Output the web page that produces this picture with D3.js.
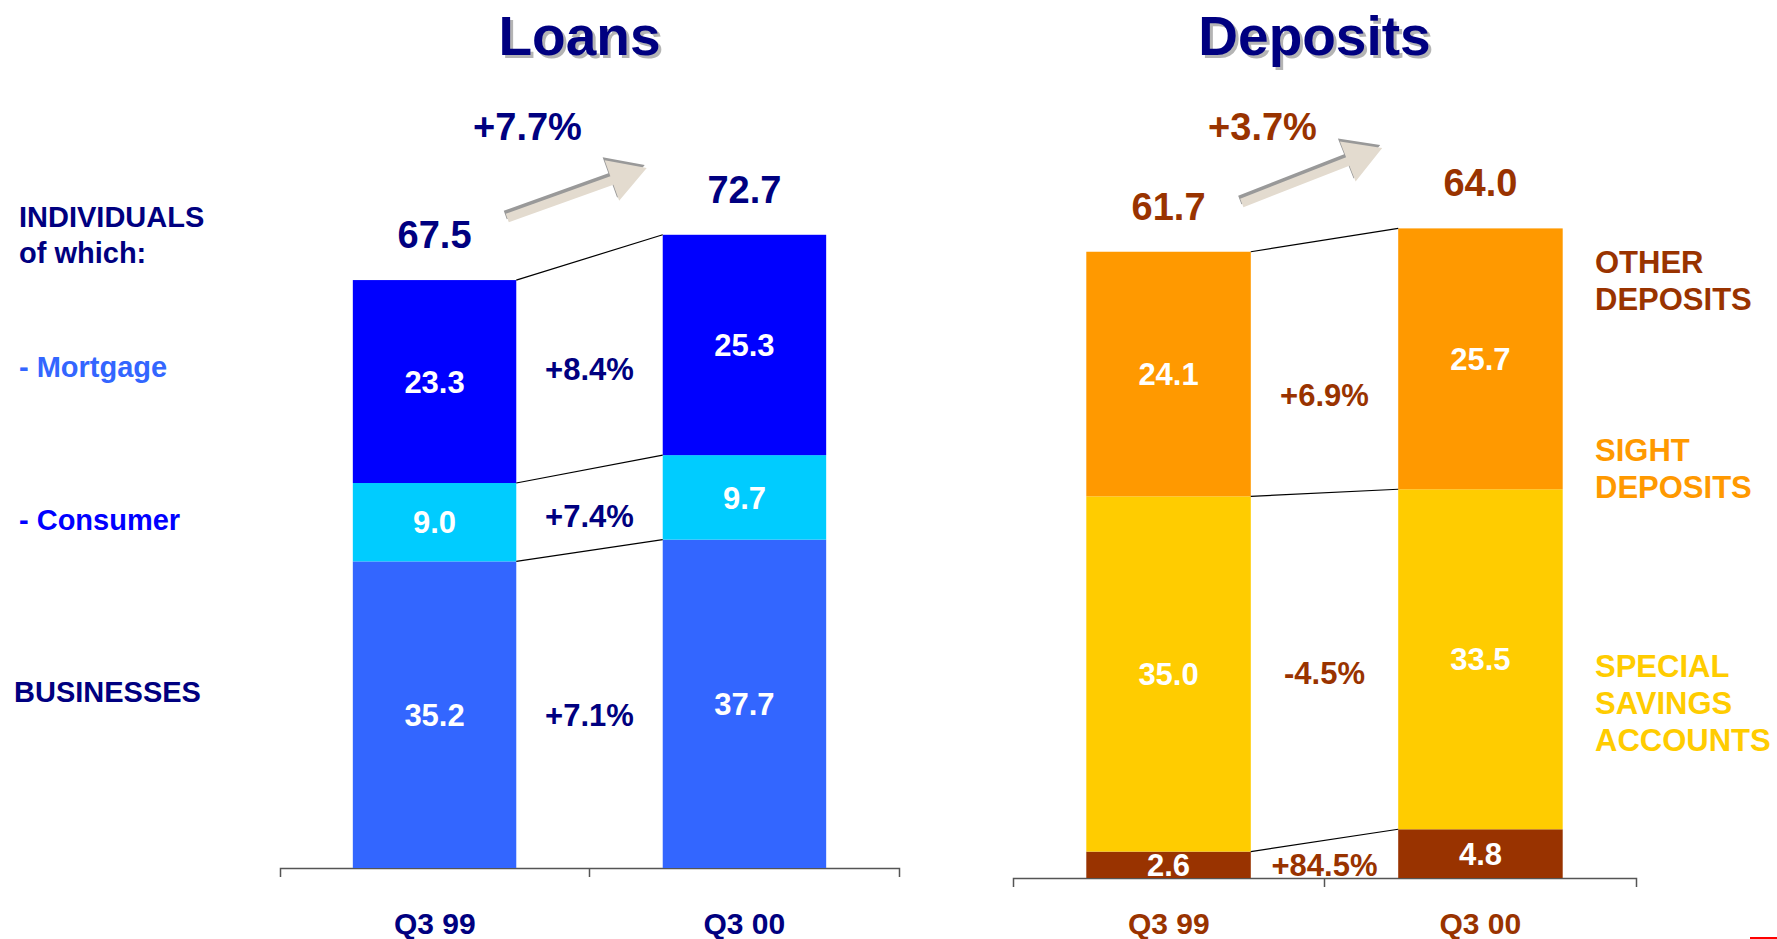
<!DOCTYPE html>
<html>
<head>
<meta charset="utf-8">
<script src="https://cdn.jsdelivr.net/npm/d3@7"></script>
<style>
	body { margin: 0; background: #fff; }
	svg { display: block; font-family: Arial, 'Liberation Sans', sans-serif; font-weight: bold; }
</style>
</head>
<body>
<div id="chart"></div>
<script>
// DATA
const periods = ['Q3 99', 'Q3 00'];

const loanKeys = ['businesses', 'consumer', 'mortgage'];
const loanBusinesses = [35.2, 37.7];
const loanConsumer = [9.0, 9.7];
const loanMortgage = [23.3, 25.3];
const loanTotals = [67.5, 72.7];
const loanChanges = ['+7.1%', '+7.4%', '+8.4%'];
const loanGrowth = '+7.7%';
const loanLegend = [['INDIVIDUALS', 'of which:'], ['- Mortgage'], ['- Consumer'], ['BUSINESSES']];

const depositKeys = ['other', 'special', 'sight'];
const depositOther = [2.6, 4.8];
const depositSpecial = [35.0, 33.5];
const depositSight = [24.1, 25.7];
const depositTotals = [61.7, 64.0];
const depositChanges = ['+84.5%', '-4.5%', '+6.9%'];
const depositGrowth = '+3.7%';
const depositLegend = [['OTHER', 'DEPOSITS'], ['SIGHT', 'DEPOSITS'], ['SPECIAL', 'SAVINGS', 'ACCOUNTS']];


// LAYOUT
const W = 1777, H = 939;
const navy = '#000080', brown = '#993300';

const panels = [
	{
		title: 'Loans',
		keys: loanKeys,
		rows: periods.map((p, i) => ({ period: p, businesses: loanBusinesses[i], consumer: loanConsumer[i], mortgage: loanMortgage[i] })),
		totals: loanTotals,
		changes: loanChanges,
		changeShift: [6, 6, 6],
		growth: loanGrowth,
		colors: { businesses: '#3366ff', consumer: '#00ccff', mortgage: '#0000ff' },
		textColor: navy,
		x0: 280, x1: 899, axisY: 868, pxPerUnit: 8.71,
		arrowY: [218, 168],
		legend: loanLegend,
		legendX: [19, 19, 19, 14],
		legendY: [227, 377, 530, 702],
		legendColors: [navy, '#3366ff', '#0000ff', navy],
		legendSize: 29,
		legendStep: 36
	},
	{
		title: 'Deposits',
		keys: depositKeys,
		rows: periods.map((p, i) => ({ period: p, other: depositOther[i], special: depositSpecial[i], sight: depositSight[i] })),
		totals: depositTotals,
		changes: depositChanges,
		changeShift: [6, 6, 28],
		growth: depositGrowth,
		colors: { other: '#993300', special: '#ffcc00', sight: '#ff9900' },
		textColor: brown,
		x0: 1013, x1: 1636, axisY: 878, pxPerUnit: 10.15,
		arrowY: [203, 148],
		legend: depositLegend,
		legendX: [1595, 1595, 1595],
		legendY: [273, 461, 677],
		legendColors: [brown, '#ff9900', '#ffcc00'],
		legendSize: 31,
		legendStep: 37
	}
];

const svg = d3.select('#chart')
	.append('svg')
	.attr('width', W)
	.attr('height', H)
	.attr('viewBox', [0, 0, W, H]);


// FUNCTIONS
const arrowPath = (len) => {
	// arrow pointing along +x, tail at origin
	const sw = 4.5, hw = 21.5, hl = 37;
	return `M0,${-sw} L${len - hl},${-sw} L${len - hl},${-hw} L${len},0 L${len - hl},${hw} L${len - hl},${sw} L0,${sw} Z`;
};

const drawPanel = (cfg) => {
	const g = svg.append('g');

	const xCat = d3.scaleBand().domain(periods).range([cfg.x0, cfg.x1]);
	const xBar = d3.scaleBand().domain(periods).range([cfg.x0, cfg.x1])
		.paddingInner(0.4726).paddingOuter(0.235);
	const y = d3.scaleLinear()
		.domain([0, 80])
		.range([cfg.axisY, cfg.axisY - 80 * cfg.pxPerUnit]);

	const series = d3.stack().keys(cfg.keys)(cfg.rows);

	// title with shadow
	const tx = (cfg.x0 + cfg.x1) / 2 - 10;
	g.append('text')
		.attr('x', tx + 3).attr('y', 58)
		.attr('text-anchor', 'middle')
		.attr('font-size', 55)
		.attr('fill', '#b4b4b4')
		.text(cfg.title);
	g.append('text')
		.attr('x', tx).attr('y', 55)
		.attr('text-anchor', 'middle')
		.attr('font-size', 55)
		.attr('fill', navy)
		.text(cfg.title);

	// axis
	const labelBaseline = 934;
	g.append('g')
		.attr('transform', `translate(0,${cfg.axisY})`)
		.call(d3.axisBottom(xCat)
			.tickSizeInner(0)
			.tickSizeOuter(9)
			.tickPadding(labelBaseline - cfg.axisY - 0.71 * 30))
		.call(a => a.select('.domain').attr('stroke', '#555').attr('stroke-width', 1.5))
		.call(a => a.selectAll('text')
			.attr('font-size', 30)
			.attr('font-family', "Arial, 'Liberation Sans', sans-serif")
			.attr('font-weight', 'bold')
			.attr('fill', cfg.textColor));

	// inner boundary ticks
	g.append('g')
		.selectAll('line')
		.data(periods.slice(1))
		.join('line')
		.attr('x1', d => xCat(d)).attr('x2', d => xCat(d))
		.attr('y1', cfg.axisY).attr('y2', cfg.axisY + 9)
		.attr('stroke', '#555').attr('stroke-width', 1.5);

	// bars
	g.append('g')
		.selectAll('g')
		.data(series)
		.join('g')
		.attr('fill', s => cfg.colors[s.key])
		.selectAll('rect')
		.data(s => s)
		.join('rect')
		.attr('x', d => xBar(d.data.period))
		.attr('y', d => y(d[1]))
		.attr('width', xBar.bandwidth())
		.attr('height', d => y(d[0]) - y(d[1]));

	// connectors between bar tops of each segment
	const xa = xBar(periods[0]) + xBar.bandwidth();
	const xb = xBar(periods[1]);
	g.append('g')
		.selectAll('line')
		.data(series)
		.join('line')
		.attr('x1', xa).attr('y1', s => y(s[0][1]))
		.attr('x2', xb).attr('y2', s => y(s[1][1]))
		.attr('stroke', '#000')
		.attr('stroke-width', 1.2);

	// segment values
	g.append('g')
		.selectAll('g')
		.data(series)
		.join('g')
		.selectAll('text')
		.data(s => s)
		.join('text')
		.attr('x', d => xBar(d.data.period) + xBar.bandwidth() / 2)
		.attr('y', d => (y(d[0]) + y(d[1])) / 2)
		.attr('dy', '0.36em')
		.attr('text-anchor', 'middle')
		.attr('font-size', 31)
		.attr('fill', '#fff')
		.text(d => (d[1] - d[0]).toFixed(1));

	// change labels between bars
	g.append('g')
		.selectAll('text')
		.data(series)
		.join('text')
		.attr('x', (xa + xb) / 2)
		.attr('y', (s, i) => (y(s[0][0]) + y(s[0][1]) + y(s[1][0]) + y(s[1][1])) / 4 + cfg.changeShift[i])
		.attr('dy', '0.36em')
		.attr('text-anchor', 'middle')
		.attr('font-size', 31)
		.attr('fill', cfg.textColor)
		.text((s, i) => cfg.changes[i]);

	// totals
	g.append('g')
		.selectAll('text')
		.data(cfg.totals)
		.join('text')
		.attr('x', (d, i) => xBar(periods[i]) + xBar.bandwidth() / 2)
		.attr('y', d => y(d) - 32)
		.attr('text-anchor', 'middle')
		.attr('font-size', 38)
		.attr('fill', cfg.textColor)
		.text(d => d.toFixed(1));

	// growth label
	g.append('text')
		.attr('x', (xa + xb) / 2 - 62)
		.attr('y', 140)
		.attr('text-anchor', 'middle')
		.attr('font-size', 38)
		.attr('fill', cfg.textColor)
		.text(cfg.growth);

	// arrow
	const tail = [xa - 9, cfg.arrowY[0]];
	const tip = [xb - 16, cfg.arrowY[1]];
	const len = Math.hypot(tip[0] - tail[0], tip[1] - tail[1]);
	const ang = Math.atan2(tip[1] - tail[1], tip[0] - tail[0]) * 180 / Math.PI;
	g.append('path')
		.attr('d', arrowPath(len))
		.attr('transform', `translate(${tail[0] - 2},${tail[1] - 3}) rotate(${ang})`)
		.attr('fill', '#999');
	g.append('path')
		.attr('d', arrowPath(len))
		.attr('transform', `translate(${tail[0]},${tail[1]}) rotate(${ang})`)
		.attr('fill', '#e3dbcf');

	// side legend
	cfg.legend.forEach((lines, i) => {
		g.append('text')
			.attr('x', cfg.legendX[i])
			.attr('y', cfg.legendY[i])
			.attr('font-size', cfg.legendSize)
			.attr('fill', cfg.legendColors[i])
			.selectAll('tspan')
			.data(lines)
			.join('tspan')
			.attr('x', cfg.legendX[i])
			.attr('dy', (d, j) => j === 0 ? 0 : cfg.legendStep)
			.text(d => d);
	});
};

panels.forEach(drawPanel);

// small red mark in the corner
svg.append('line')
	.attr('x1', 1750).attr('x2', W)
	.attr('y1', H - 1).attr('y2', H - 1)
	.attr('stroke', '#ff0000')
	.attr('stroke-width', 2);
</script>
</body>
</html>
